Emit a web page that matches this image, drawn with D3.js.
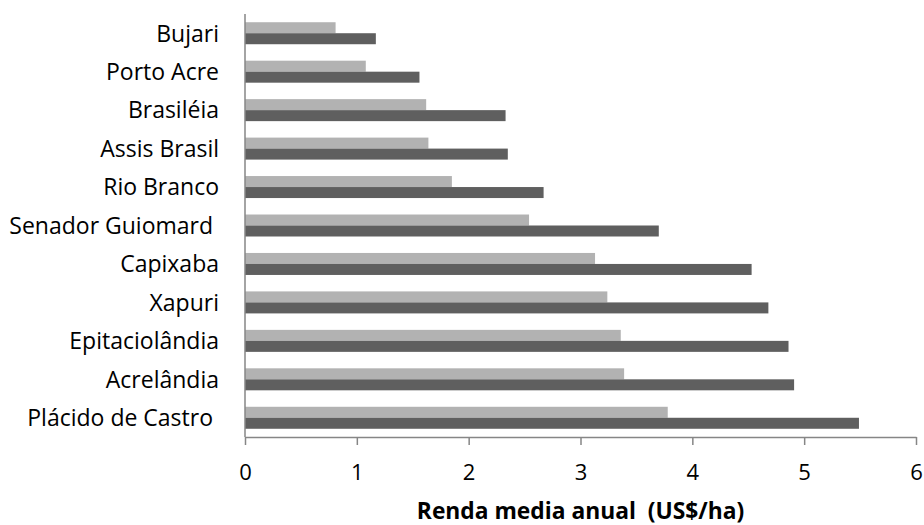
<!DOCTYPE html>
<html>
<head>
<meta charset="utf-8">
<script src="https://cdn.jsdelivr.net/npm/d3@7"></script>
<style>
  html, body { margin: 0; padding: 0; background: #fff; }
  svg text { font-family: "Open Sans", Lato, sans-serif; white-space: pre; }
</style>
</head>
<body>
<svg id="chart" width="924" height="525"></svg>
<script>
// Municipalities, listed top to bottom
const municipios = [
  "Bujari", "Porto Acre", "Brasiléia", "Assis Brasil", "Rio Branco",
  "Senador Guiomard ", "Capixaba", "Xapuri", "Epitaciolândia",
  "Acrelândia", "Plácido de Castro "
];
// Light series (upper bar of each pair)
const serieClara = [0.81, 1.08, 1.62, 1.64, 1.85, 2.54, 3.13, 3.24, 3.36, 3.39, 3.78];
// Dark series (lower bar of each pair)
const serieEscura = [1.17, 1.56, 2.33, 2.35, 2.67, 3.70, 4.53, 4.68, 4.86, 4.91, 5.49];
const xTicks = [0, 1, 2, 3, 4, 5, 6];
const tituloX = "Renda media anual  (US$/ha)";

const svg = d3.select("#chart");
const plotL = 245, plotR = 916, plotT = 14, plotB = 437;
const fontFam = "'Open Sans', Lato, sans-serif";

const x = d3.scaleLinear().domain([0, 6]).range([plotL, plotR]);
const pad = 0.428;
const y = d3.scaleBand().domain(municipios).range([plotT, plotB])
  .paddingInner(pad).paddingOuter(pad / 2);
const ySub = d3.scaleBand().domain(["clara", "escura"]).range([0, y.bandwidth()]);

const rows = municipios.map((m, i) => ({ m, clara: serieClara[i], escura: serieEscura[i] }));
const colors = { clara: "#b2b2b2", escura: "#5f5f5f" };

const g = svg.append("g");
rows.forEach(r => {
  ["clara", "escura"].forEach(k => {
    g.append("rect")
      .attr("x", x(0))
      .attr("y", y(r.m) + ySub(k))
      .attr("width", x(r[k]) - x(0))
      .attr("height", ySub.bandwidth())
      .attr("fill", colors[k]);
  });
});

// Category labels
svg.append("g").selectAll("text").data(municipios).join("text")
  .attr("x", 219)
  .attr("y", d => y(d) + y.bandwidth() / 2)
  .attr("dy", "0.36em")
  .attr("text-anchor", "end")
  .attr("font-size", 23)
  .attr("fill", "#000")
  .text(d => d);

// Vertical axis line
svg.append("line")
  .attr("x1", x(0)).attr("x2", x(0))
  .attr("y1", plotT).attr("y2", plotB)
  .attr("stroke", "#868686").attr("stroke-width", 1.5);

// Bottom axis
const xAxis = d3.axisBottom(x).tickValues(xTicks).tickFormat(d3.format("d"))
  .tickSizeInner(8).tickSizeOuter(0).tickPadding(19);
const ax = svg.append("g").attr("transform", `translate(0,${plotB})`).call(xAxis);
ax.select(".domain").attr("stroke", "#868686").attr("stroke-width", 1.5);
ax.selectAll(".tick line").attr("stroke", "#868686").attr("stroke-width", 1.5);
ax.selectAll(".tick text").attr("font-size", 22).attr("fill", "#000")
  .attr("font-family", fontFam);

// Axis title
svg.append("text")
  .attr("x", (plotL + plotR) / 2)
  .attr("y", 519)
  .attr("text-anchor", "middle")
  .attr("font-size", 22.8)
  .attr("font-weight", "bold")
  .attr("fill", "#000")
  .text(tituloX);
</script>
</body>
</html>
